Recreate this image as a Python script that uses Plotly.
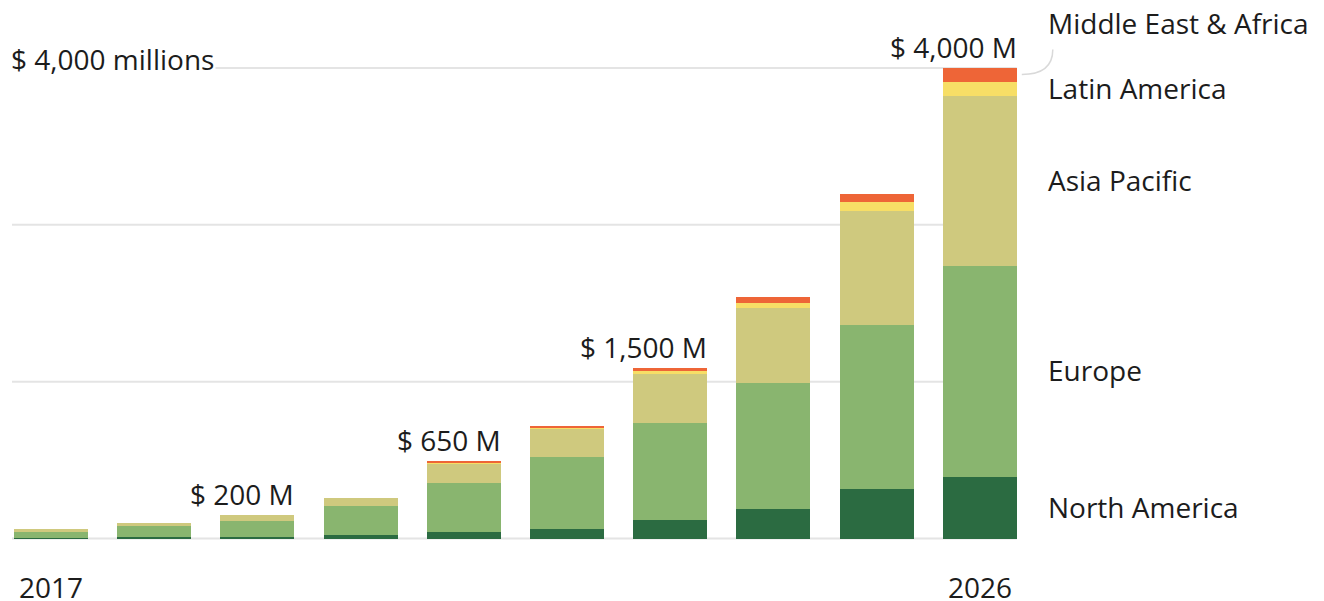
import plotly.graph_objects as go

# ---------------- data ----------------
years = [2017, 2018, 2019, 2020, 2021, 2022, 2023, 2024, 2025, 2026]
north_america = [4, 10, 12, 30, 55, 81, 155, 248, 421, 520]
europe = [51, 94, 139, 244, 414, 610, 827, 1074, 1392, 1800]
asia_pacific = [23, 25, 49, 72, 168, 243, 414, 635, 972, 1440]
latin_america = [0, 0, 0, 0, 6, 6, 31, 48, 74, 120]
middle_east_africa = [0, 0, 0, 0, 18, 20, 20, 48, 73, 120]

series_names = ["North America", "Europe", "Asia Pacific", "Latin America", "Middle East & Africa"]
series_values = [north_america, europe, asia_pacific, latin_america, middle_east_africa]
series_colors = ["#2b6b41", "#89b56f", "#cfc97e", "#f7de66", "#ee6537"]

label_years = [2019, 2021, 2023, 2026]
label_texts = ["$ 200 M", "$ 650 M", "$ 1,500 M", "$ 4,000 M"]
grid_values = [0, 4000 / 3, 8000 / 3, 4000]
axis_title = "$ 4,000 millions"
tick_years = [2017, 2026]
tick_texts = ["2017", "2026"]

# ---------------- layout constants ----------------
W, H = 1324, 601
OFF = 8  # default page body margin
PX_PER_YEAR = 103.2
PX_PER_M = 0.11763
BASE_PX = 538.5
FIRST_CENTER_PX = 51
BAR_W = 0.717
FONT = "Open Sans"
FS = 28
TXT = "#1c1c1c"

FW, FH = W - OFF, H - OFF
x_lo = years[0] - (FIRST_CENTER_PX - OFF) / PX_PER_YEAR
x_hi = x_lo + FW / PX_PER_YEAR
y_hi = (BASE_PX - OFF) / PX_PER_M
y_lo = y_hi - FH / PX_PER_M

fig = go.Figure()
for name, vals, col in zip(series_names, series_values, series_colors):
    fig.add_trace(go.Bar(x=years, y=vals, name=name, width=BAR_W,
                         marker=dict(color=col, line=dict(width=0)),
                         hoverinfo="skip"))

totals = [sum(v[i] for v in series_values) for i in range(len(years))]

# gridlines
gx0 = years[0] - BAR_W / 2 - 2 / PX_PER_YEAR
gx1 = years[-1] + BAR_W / 2
for g in grid_values:
    fig.add_shape(type="line", x0=gx0, x1=gx1, y0=g, y1=g, xref="x", yref="y",
                  line=dict(color="#e4e4e4", width=2), layer="below")

annotations = []
# axis label on top gridline
annotations.append(dict(x=gx0, y=grid_values[-1], xref="x", yref="y", text=axis_title,
                        xanchor="left", yanchor="middle", xshift=-3, yshift=9, showarrow=False,
                        bgcolor="white", font=dict(family=FONT, size=FS, color=TXT)))
# total labels
for yr, t in zip(label_years, label_texts):
    i = years.index(yr)
    annotations.append(dict(x=yr + BAR_W / 2, y=totals[i], xref="x", yref="y", text=t,
                            xanchor="right", yanchor="bottom", xshift=2, yshift=0,
                            showarrow=False, font=dict(family=FONT, size=FS, color=TXT)))
# x tick labels
for yr, t in zip(tick_years, tick_texts):
    annotations.append(dict(x=yr, y=0, xref="x", yref="y", text=t, xanchor="center",
                            yanchor="middle", yshift=-48, showarrow=False,
                            font=dict(family=FONT, size=FS, color=TXT)))
# series labels at the right of the last bar
last = len(years) - 1
cum = 0
mids = []
for vals in series_values:
    mids.append(cum + vals[last] / 2)
    cum += vals[last]
for k, (name, m) in enumerate(zip(series_names, mids)):
    shift = 52 if k == len(series_names) - 1 else 1
    annotations.append(dict(x=years[last] + BAR_W / 2, y=m, xref="x", yref="y", text=name,
                            xanchor="left", yanchor="middle", xshift=29, yshift=shift,
                            showarrow=False, font=dict(family=FONT, size=FS, color=TXT)))

# connector curve for the top label
cx0 = years[last] + BAR_W / 2 + 5 / PX_PER_YEAR
cy0 = mids[-1] + 5
cx1 = cx0 + 31 / PX_PER_YEAR
cy1 = cy0 + 25 / PX_PER_M
fig.add_shape(type="path", xref="x", yref="y",
              path=f"M {cx0},{cy0} Q {cx1},{cy0} {cx1},{cy1}",
              line=dict(color="#d9d9d9", width=1.5))

fig.update_layout(
    width=FW, height=FH, autosize=False,
    margin=dict(l=0, r=0, t=0, b=0, pad=0),
    barmode="stack", bargap=0,
    showlegend=False,
    plot_bgcolor="white", paper_bgcolor="white",
    xaxis=dict(range=[x_lo, x_hi], visible=False, fixedrange=True),
    yaxis=dict(range=[y_lo, y_hi], visible=False, fixedrange=True),
    annotations=annotations,
    font=dict(family=FONT, size=FS, color=TXT),
)

fig.write_html("out.html", config={"displayModeBar": False})
